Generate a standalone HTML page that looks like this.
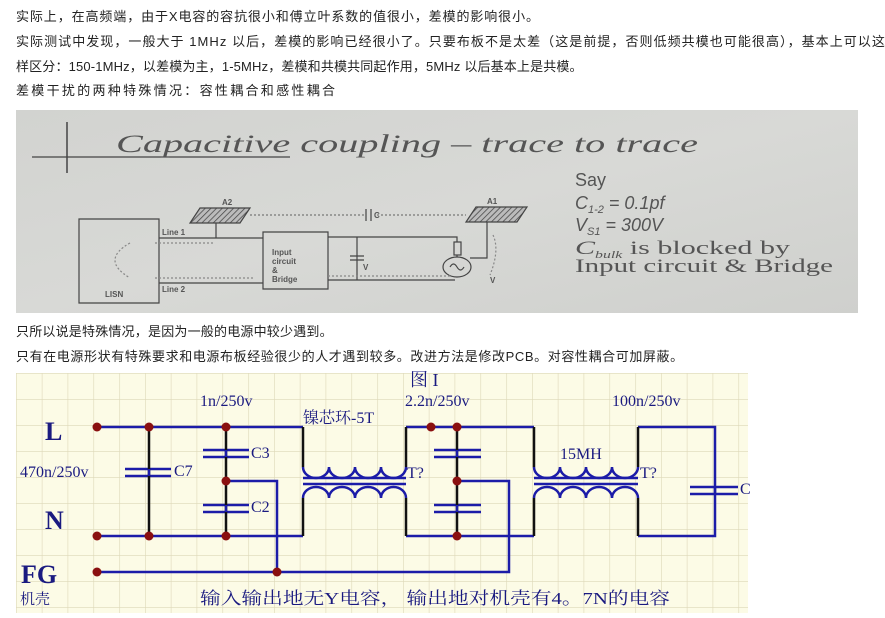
<!DOCTYPE html>
<html><head><meta charset="utf-8"><style>
body{margin:0;width:885px;height:618px;background:#fff;overflow:hidden;position:relative;font-family:"Liberation Sans","Noto Sans CJK SC",sans-serif;}
.t{position:absolute;left:16px;font-size:13px;color:#222;white-space:nowrap;line-height:16px;}
</style></head><body>
<div class="t" style="top:9px;letter-spacing:0.9px">实际上，在高频端，由于X电容的容抗很小和傅立叶系数的值很小，差模的影响很小。</div>
<div class="t" style="top:34px;letter-spacing:1.05px">实际测试中发现，一般大于 1MHz 以后，差模的影响已经很小了。只要布板不是太差（这是前提，否则低频共模也可能很高），基本上可以这</div>
<div class="t" style="top:59px;letter-spacing:0.15px">样区分：150-1MHz，以差模为主，1-5MHz，差模和共模共同起作用，5MHz 以后基本上是共模。</div>
<div class="t" style="top:83px;letter-spacing:2.3px">差模干扰的两种特殊情况：容性耦合和感性耦合</div>

<svg style="position:absolute;left:0;top:0" width="885" height="618">
<defs>
<linearGradient id="pg" x1="0" y1="0" x2="1" y2="1"><stop offset="0" stop-color="#d2d3d0"/><stop offset="0.5" stop-color="#d8d9d6"/><stop offset="1" stop-color="#cfd0cd"/></linearGradient>
<pattern id="hat" width="4" height="4" patternUnits="userSpaceOnUse" patternTransform="rotate(45)"><rect width="4" height="4" fill="#bbb"/><line x1="0" y1="0" x2="0" y2="4" stroke="#444" stroke-width="1.5"/></pattern>
<pattern id="grid" x="16" y="373" width="25.8" height="26" patternUnits="userSpaceOnUse"><rect width="26" height="26" fill="#fcfbe6"/><path d="M0 0H26M0 0V26" stroke="#ddd8b8" stroke-width="1.2"/></pattern>
</defs>
<rect x="16" y="110" width="842" height="203" fill="url(#pg)"/>
<g stroke="#444" fill="none" stroke-width="1.2">
<line x1="67" y1="122" x2="67" y2="173" stroke-width="1.5"/>
<line x1="32" y1="157" x2="290" y2="157"/>
<path d="M79 219H159V303H79Z"/>
<path d="M159 238H263M159 283H263"/>
<path d="M263 232H328V289H263Z"/>
<path d="M328 237H457V242M328 280H455"/>
<rect x="454" y="242" width="7" height="13"/>
<ellipse cx="457" cy="267" rx="14" ry="10"/>
<path d="M450 267q3.5-6 7 0t7 0"/>
<path d="M457 255V257M487 222V258H470"/>
<path d="M357 237V280M350 256H364M350 260H364"/>
<path d="M216 223V238"/>
<path d="M200 208H250L240 223H190Z" fill="url(#hat)"/>
<path d="M476 207H527L517 222H466Z" fill="url(#hat)"/>
<path d="M250 215H366M377 215H466" stroke-dasharray="2 2" stroke="#777"/>
<path d="M366 209V221M371 209V221"/>
<path d="M155 243H215M155 278H255M130 243Q100 260 130 278" stroke-dasharray="2 2" stroke="#888"/>
<path d="M328 276H450M493 235Q500 250 490 275" stroke-dasharray="2 2" stroke="#888"/>
</g>
<g fill="#555" font-family="Liberation Sans,sans-serif" font-size="8" font-weight="bold">
<text x="222" y="205">A2</text><text x="487" y="204">A1</text>
<text x="162" y="235">Line 1</text><text x="162" y="292">Line 2</text>
<text x="105" y="297">LISN</text>
<text x="272" y="255">Input</text><text x="272" y="264">circuit</text><text x="272" y="273">&amp;</text><text x="272" y="282">Bridge</text>
<text x="363" y="270">V</text><text x="374" y="218">C</text><text x="490" y="283">V</text>
</g>
<text x="116" y="152" font-family="Liberation Serif,serif" font-style="italic" font-size="25" fill="#555" textLength="582" lengthAdjust="spacingAndGlyphs">Capacitive coupling – trace to trace</text>
<g font-family="Liberation Sans,sans-serif" font-size="18" fill="#555">
<text x="575" y="186">Say</text>
<text x="575" y="209" font-style="italic">C<tspan font-size="11" dy="4">1-2</tspan><tspan dy="-4"> = 0.1pf</tspan></text>
<text x="575" y="231" font-style="italic">V<tspan font-size="11" dy="4">S1</tspan><tspan dy="-4"> = 300V</tspan></text>
<text x="575" y="254" font-family="Liberation Serif,serif" font-size="19" textLength="215" lengthAdjust="spacingAndGlyphs"><tspan font-style="italic">C</tspan><tspan font-size="10" font-style="italic" dy="4">bulk</tspan><tspan dy="-4"> is blocked by</tspan></text>
<text x="575" y="272" font-family="Liberation Serif,serif" font-size="19" textLength="258" lengthAdjust="spacingAndGlyphs">Input circuit &amp; Bridge</text>
</g>

<rect x="16" y="373" width="732" height="240" fill="url(#grid)"/>
<g stroke="#1c1ca8" stroke-width="2.5" fill="none">
<path d="M97 427H303M97 536H303M406 427H534M406 536H534M638 427H715V536H638"/>
<path d="M97 572H509V481H457M226 481H277V572"/>
<path d="M125 469H171M125 476H171M203 450H249M203 457H249M203 505H249M203 512H249"/>
<path d="M434 450H481M434 457H481M434 505H481M434 512H481M690 487H738M690 494H738"/>
<path d="M303 478H406M303 484H406M534 478H638M534 484H638"/>
<path d="M303 467a13 11 0 0 0 26 0a13 11 0 0 0 26 0a13 11 0 0 0 26 0a12.5 11 0 0 0 25 0"/>
<path d="M303 498a13 11 0 0 1 26 0a13 11 0 0 1 26 0a13 11 0 0 1 26 0a12.5 11 0 0 1 25 0"/>
<path d="M534 467a13 11 0 0 0 26 0a13 11 0 0 0 26 0a13 11 0 0 0 26 0a13 11 0 0 0 26 0"/>
<path d="M534 498a13 11 0 0 1 26 0a13 11 0 0 1 26 0a13 11 0 0 1 26 0a13 11 0 0 1 26 0"/>
</g>
<g stroke="#111" stroke-width="2.5" fill="none">
<path d="M149 427V536M226 427V536M457 427V536M303 427V467M303 498V536M406 427V467M406 498V536M534 427V467M534 498V536M638 427V467M638 498V536"/>
</g>
<g stroke="#1c1ca8" stroke-width="2.5"><path d="M149 469V476M226 450V457M226 505V512M457 450V457M457 505V512M715 487V494"/></g>
<g fill="#8a1010">
<circle cx="97" cy="427" r="4.5"/><circle cx="149" cy="427" r="4.5"/><circle cx="226" cy="427" r="4.5"/>
<circle cx="97" cy="536" r="4.5"/><circle cx="149" cy="536" r="4.5"/><circle cx="226" cy="536" r="4.5"/>
<circle cx="226" cy="481" r="4.5"/><circle cx="97" cy="572" r="4.5"/><circle cx="277" cy="572" r="4.5"/>
<circle cx="431" cy="427" r="4.5"/><circle cx="457" cy="427" r="4.5"/><circle cx="457" cy="481" r="4.5"/><circle cx="457" cy="536" r="4.5"/>
</g>
<g font-family="Liberation Serif,'Noto Serif CJK SC',serif" fill="#1a1a80" font-size="16">
<text x="45" y="440" font-size="26" font-weight="bold">L</text>
<text x="45" y="529" font-size="26" font-weight="bold">N</text>
<text x="21" y="583" font-size="26" font-weight="bold">FG</text>
<text x="20" y="604" font-size="15">机壳</text>
<text x="20" y="477">470n/250v</text>
<text x="174" y="476">C7</text><text x="251" y="458">C3</text><text x="251" y="512">C2</text>
<text x="200" y="406">1n/250v</text>
<text x="303" y="423">镍芯环-5T</text>
<text x="407" y="478">T?</text><text x="640" y="478">T?</text>
<text x="410" y="386" font-size="18">图 I</text>
<text x="405" y="406">2.2n/250v</text>
<text x="560" y="459">15MH</text>
<text x="612" y="406">100n/250v</text>
<text x="740" y="494">C</text>
<text x="200" y="604" font-size="17" textLength="470" lengthAdjust="spacingAndGlyphs">输入输出地无Y电容， 输出地对机壳有4。7N的电容</text>
</g>
</svg>
<div class="t" style="top:324px;letter-spacing:0.2px">只所以说是特殊情况，是因为一般的电源中较少遇到。</div>
<div class="t" style="top:349px;letter-spacing:0.6px">只有在电源形状有特殊要求和电源布板经验很少的人才遇到较多。改进方法是修改PCB。对容性耦合可加屏蔽。</div>
</body></html>
